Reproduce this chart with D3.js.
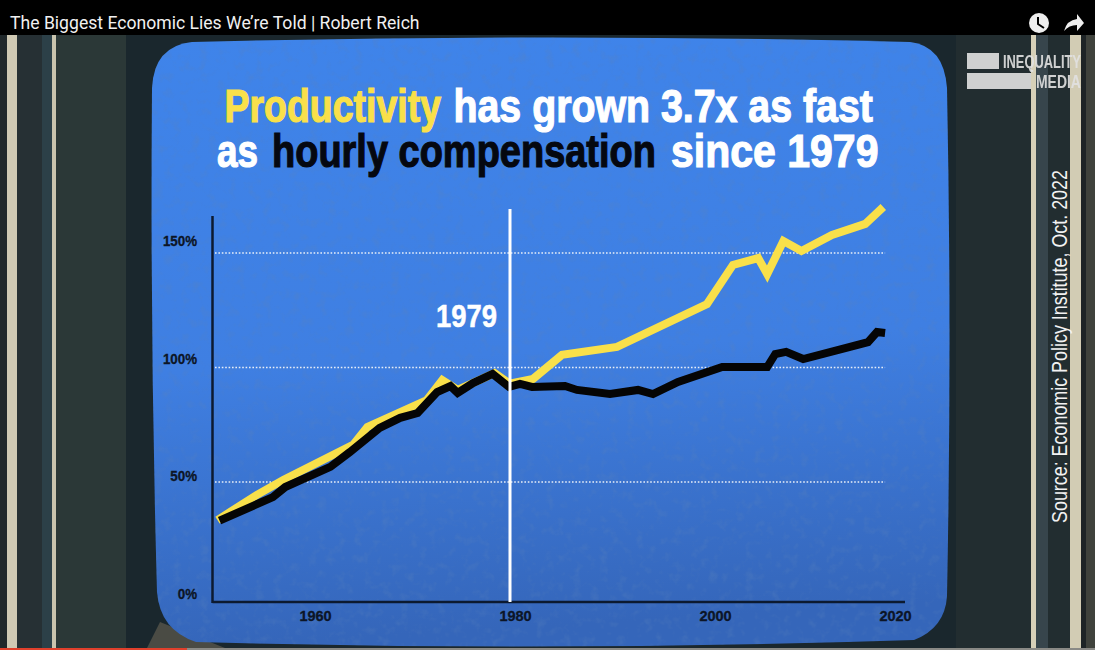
<!DOCTYPE html>
<html>
<head>
<meta charset="utf-8">
<script src="https://cdn.jsdelivr.net/npm/d3@7"></script>
<style>
  html, body { margin: 0; padding: 0; background: #000; overflow: hidden; }
</style>
</head>
<body>
<div id="chart"></div>
<script>
// values: [year, percent]
const productivity = [
  [1950.5, 33.4], [1954.3, 44.3], [1956.9, 50.9], [1963.7, 66.2], [1965.1, 74],
  [1970.9, 85.8], [1972.4, 94.5], [1973.9, 90.2], [1977.5, 97.6], [1978.9, 93.2],
  [1979.4, 93.2], [1981.8, 95], [1984.7, 105.5], [1990.2, 109], [1999.2, 127.7],
  [2002, 144.8], [2004.8, 147.8], [2005.8, 140.8], [2007.6, 155.2], [2009.6, 150.9],
  [2013, 157.9], [2016.7, 162.7], [2018.7, 170.1]
];
const compensation = [
  [1950.7, 33.1], [1955.9, 43.4], [1957.1, 47.8], [1961.5, 56.6], [1963.4, 63.1],
  [1966.3, 73.6], [1968.3, 78], [1970, 80.1], [1971.9, 89.3], [1973.2, 91.9],
  [1973.9, 88.9], [1975.4, 93.2], [1977.3, 97.2], [1978.9, 91.5], [1980.5, 92.8],
  [1981.7, 91.5], [1985, 91.9], [1986.2, 90.2], [1989.5, 88.4], [1992.3, 90.2],
  [1993.8, 88.4], [1996.3, 93.7], [2000.8, 100.2], [2005.8, 100.2], [2006.7, 105.9],
  [2007.9, 106.8], [2009.8, 103.7], [2015, 109], [2017, 111.1], [2018, 115.5],
  [2018.9, 115.1]
];
const xTicks = [1960, 1980, 2000, 2020];
const yTicks = [0, 50, 100, 150];
const gridValues = [50, 100, 150];
const markerYear = 1979;

const width = 1095;
const height = 650;
const fontFamily = '"Liberation Sans", Arial, sans-serif';
const yellow = "#f9e04a";
const dark = "#050810";

const svg = d3.select("#chart").append("svg")
  .attr("width", width)
  .attr("height", height)
  .style("display", "block");

const defs = svg.append("defs");

const blueGrad = defs.append("linearGradient")
  .attr("id", "blue").attr("x1", 0).attr("y1", 0).attr("x2", 0.08).attr("y2", 1);
blueGrad.append("stop").attr("offset", "0").attr("stop-color", "#3f84ea");
blueGrad.append("stop").attr("offset", "0.55").attr("stop-color", "#3f7fe2");
blueGrad.append("stop").attr("offset", "1").attr("stop-color", "#3566ba");

// fine speckle on the screen
const noise = defs.append("filter").attr("id", "grain")
  .attr("x", 0).attr("y", 0).attr("width", "100%").attr("height", "100%");
noise.append("feTurbulence")
  .attr("type", "fractalNoise").attr("baseFrequency", 0.11).attr("numOctaves", 3).attr("seed", 4);
noise.append("feColorMatrix")
  .attr("values", "0 0 0 0 0.1  0 0 0 0 0.22  0 0 0 0 0.5  0 0 0 2.6 -1.3");
noise.append("feComposite").attr("in2", "SourceAlpha").attr("operator", "in");

// draws a text squeezed horizontally so that it runs from x0 to x1 (no narrow bold font here)
function fitText(parent, str, x0, x1, baseline, size, fill, opts = {}) {
  const t = parent.append("text")
    .attr("font-family", fontFamily)
    .attr("font-size", size)
    .attr("font-weight", opts.weight || 700)
    .attr("fill", fill)
    .text(str);
  if (opts.stroke) t.attr("stroke", fill).attr("stroke-width", opts.stroke);
  const len = t.node().getComputedTextLength();
  t.attr("transform", `translate(${x0},${baseline}) scale(${(x1 - x0) / len},1)`);
  return t;
}

// TV set behind the screen
const frame = svg.append("g");
const panels = [
  [0, 7, "#20282b"], [7, 10, "#cfc9b4"], [17, 25, "#263034"], [42, 10, "#2c4048"],
  [52, 4, "#c9c4ae"], [56, 70, "#2b3837"], [126, 830, "#1a272d"],
  [956, 75, "#222d30"], [1031, 5, "#d6d0b8"], [1036, 12, "#37454c"], [1048, 22, "#222d30"],
  [1070, 11, "#d2ccb4"], [1081, 5, "#1e2426"], [1086, 9, "#3f423c"]
];
frame.selectAll("rect").data(panels).join("rect")
  .attr("x", d => d[0]).attr("y", 35)
  .attr("width", d => d[1]).attr("height", height - 35)
  .attr("fill", d => d[2]);
// worn corner under the screen
frame.append("path").attr("d", "M146,650 L160,622 L230,650 Z").attr("fill", "#4a4b44");

// screen outline, bulging slightly
const screenPath = "M192,42 Q550,33 910,42 Q944,46 947,88 Q952,340 947,596 Q945,628 914,640 " +
  "Q550,652 196,642 Q160,630 157,592 Q150,340 152,88 Q154,46 192,42 Z";
svg.append("path").attr("d", screenPath).attr("fill", "url(#blue)");
svg.append("path").attr("d", screenPath).attr("fill", "#000").attr("filter", "url(#grain)").attr("opacity", 0.3);

// top bar
svg.append("rect").attr("width", width).attr("height", 35).attr("fill", "#000");
svg.append("text")
  .attr("x", 10).attr("y", 29)
  .attr("fill", "#f1f1f1")
  .style("font", "17.6px Roboto, sans-serif")
  .text("The Biggest Economic Lies We’re Told | Robert Reich");

// clock icon
const clock = svg.append("g").attr("transform", "translate(1039,23)");
clock.append("circle").attr("r", 10).attr("fill", "#eee");
clock.append("path").attr("d", "M-1,-6 V1 L5,5")
  .attr("fill", "none").attr("stroke", "#000").attr("stroke-width", 2);
// share arrow
svg.append("path")
  .attr("d", "M1064,31 Q1067,20 1077,19 V14 L1084,23 L1077,31 V25 Q1069,25 1064,31 Z")
  .attr("fill", "#eee");

// progress bar of the player along the bottom edge
svg.append("rect").attr("x", 0).attr("y", 648).attr("width", width).attr("height", 2).attr("fill", "#8a8a86");
svg.append("rect").attr("x", 0).attr("y", 648).attr("width", 187).attr("height", 2).attr("fill", "#e0402c");

// logo
const logo = svg.append("g").attr("fill", "#e2e2e2").attr("opacity", 0.9);
logo.append("rect").attr("x", 967).attr("y", 53).attr("width", 32).attr("height", 16);
logo.append("rect").attr("x", 967).attr("y", 73).attr("width", 64).attr("height", 16);
fitText(logo, "INEQUALITY", 1003, 1081, 68, 19, "#e2e2e2");
fitText(logo, "MEDIA", 1036, 1081, 88, 19, "#e2e2e2");

// title, one piece of text per colour
const titleG = svg.append("g");
const titleSize = 47;
const titleOpts = { stroke: 1.2 };
fitText(titleG, "Productivity", 224.5, 441, 122, titleSize, yellow, titleOpts);
fitText(titleG, "has grown 3.7x as fast", 453.5, 873, 122, titleSize, "#fff", titleOpts);
fitText(titleG, "as", 217, 258, 167, titleSize, "#fff", titleOpts);
fitText(titleG, "hourly compensation", 272, 656, 167, titleSize, dark, titleOpts);
fitText(titleG, "since 1979", 671, 878.5, 167, titleSize, "#fff", titleOpts);

// source
const sourceG = svg.append("g").attr("transform", "translate(1067,523) rotate(-90)");
fitText(sourceG, "Source: Economic Policy Institute, Oct. 2022", 0, 353, 0, 22, "#f2f2f2", { weight: 400 });

// scales - the labelled axis in the picture is not evenly spaced, so x is piecewise
const x = d3.scaleLinear()
  .domain([1960, 1979, 1980, 2000, 2020])
  .range([315, 510, 515, 715, 895]);
const y = d3.scaleLinear().domain([0, 150]).range([596.5, 253]);
// the y labels sit on their own slightly wider spacing
const yLabel = d3.scaleLinear().domain([0, 150]).range([594, 241]);

const axisLeftX = 212.5;
const axisBottomY = 602;

// gridlines
svg.append("g").selectAll("line").data(gridValues).join("line")
  .attr("x1", 215).attr("x2", x(2018.9))
  .attr("y1", d => y(d)).attr("y2", d => y(d))
  .attr("stroke", "#e8eef8").attr("stroke-width", 1.6).attr("stroke-dasharray", "1.6 1.8");

// axes
const yAxis = svg.append("g")
  .attr("transform", `translate(${axisLeftX},0)`)
  .call(d3.axisLeft(yLabel).tickValues(yTicks).tickSize(0).tickPadding(0).tickFormat(d => d + "%"));
yAxis.select(".domain").remove();
yAxis.append("line").attr("y1", 216).attr("y2", axisBottomY + 1)
  .attr("stroke", "#0c1a30").attr("stroke-width", 2.5);
yAxis.selectAll(".tick text")
  .attr("x", 0)
  .attr("transform", "translate(-15.5,0) scale(0.92,1)");

const xAxis = svg.append("g")
  .attr("transform", `translate(0,${axisBottomY})`)
  .call(d3.axisBottom(x).tickValues(xTicks).tickSize(0).tickPadding(9).tickFormat(d3.format("d")));
xAxis.select(".domain").remove();
xAxis.append("line").attr("x1", axisLeftX).attr("x2", 905)
  .attr("stroke", "#0c1a30").attr("stroke-width", 2.5);

svg.selectAll(".tick text")
  .attr("font-family", fontFamily)
  .attr("fill", "#0c1526")
  .attr("stroke", "#0c1526")
  .attr("stroke-width", 0.3)
  .attr("font-size", 14.5)
  .attr("font-weight", 700);

// lines
const line = d3.line().x(d => x(d[0])).y(d => y(d[1]));
svg.append("path").datum(productivity)
  .attr("d", line).attr("fill", "none")
  .attr("stroke", yellow).attr("stroke-width", 8).attr("stroke-linejoin", "miter");
svg.append("path").datum(compensation)
  .attr("d", line).attr("fill", "none")
  .attr("stroke", "#050505").attr("stroke-width", 8).attr("stroke-linejoin", "miter");

// 1979 marker
svg.append("line")
  .attr("x1", x(markerYear)).attr("x2", x(markerYear))
  .attr("y1", 209).attr("y2", axisBottomY)
  .attr("stroke", "#fff").attr("stroke-width", 3);
fitText(svg, String(markerYear), 436, 497, 327, 31, "#fff", { stroke: 0.5 });
</script>
</body>
</html>
